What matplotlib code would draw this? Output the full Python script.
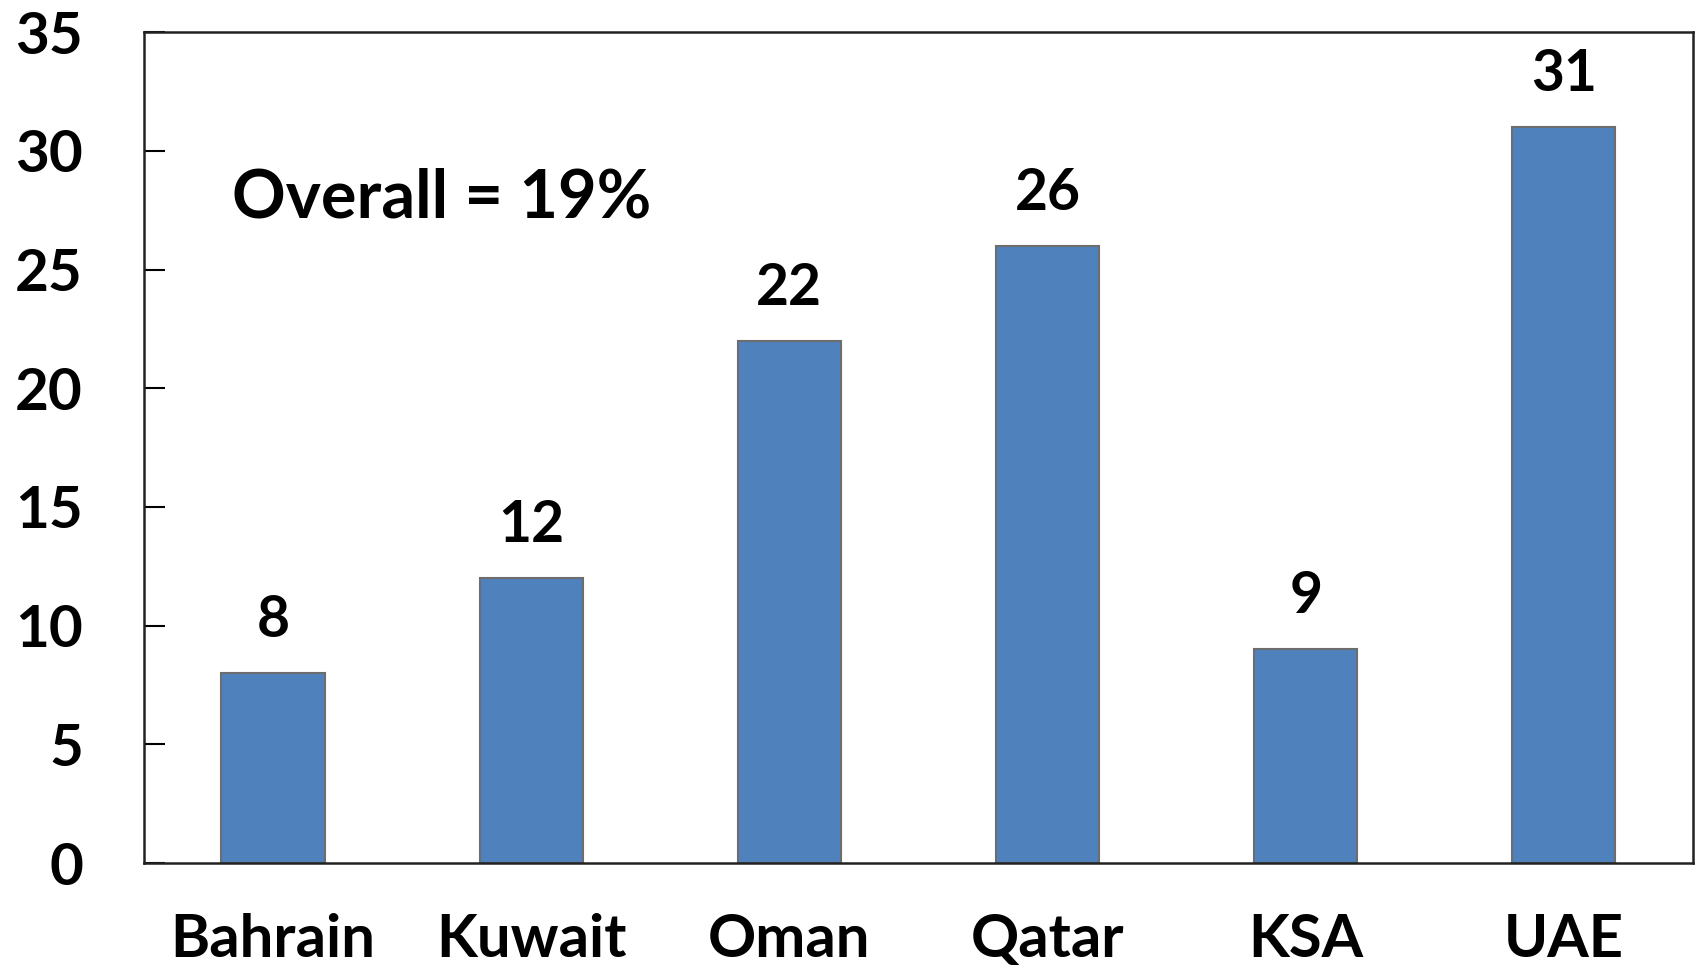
import matplotlib.pyplot as plt

countries = ["Bahrain", "Kuwait", "Oman", "Qatar", "KSA", "UAE"]
values = [8, 12, 22, 26, 9, 31]
y_ticks = [0, 5, 10, 15, 20, 25, 30, 35]
overall_note = "Overall = 19%"

plt.rcParams['font.family'] = ['Lato', 'DejaVu Sans']
plt.rcParams['font.weight'] = 'bold'

fig = plt.figure(figsize=(16.98, 9.73), dpi=100)
ax = fig.add_axes([0.0848, 0.113, 0.9122, 0.854])

x = range(len(countries))
bars = ax.bar(x, values, width=0.40, color="#4F81BD", edgecolor="#6d6d6d", linewidth=1.5)

for xi, v in zip(x, values):
    ax.annotate(str(v), (xi, v), xytext=(0, 26), textcoords="offset points",
                ha="center", va="baseline", fontsize=41, fontweight="bold")

ax.text(0.057, 0.80, overall_note, transform=ax.transAxes, ha="left", va="center",
        fontsize=48, fontweight="bold")

ax.set_xlim(-0.5, len(countries) - 0.5)
ax.set_ylim(0, 35)
ax.set_yticks(y_ticks)
ax.set_xticks(list(x))
ax.set_xticklabels(countries)

ax.tick_params(axis="y", direction="in", length=15, width=1.5, pad=44, labelsize=42)
ax.tick_params(axis="x", length=0, pad=36, labelsize=43)
for lab in ax.get_xticklabels() + ax.get_yticklabels():
    lab.set_fontweight("bold")

for sp in ax.spines.values():
    sp.set_linewidth(1.8)
    sp.set_color("#222222")

fig.savefig("out.png", dpi=100)
